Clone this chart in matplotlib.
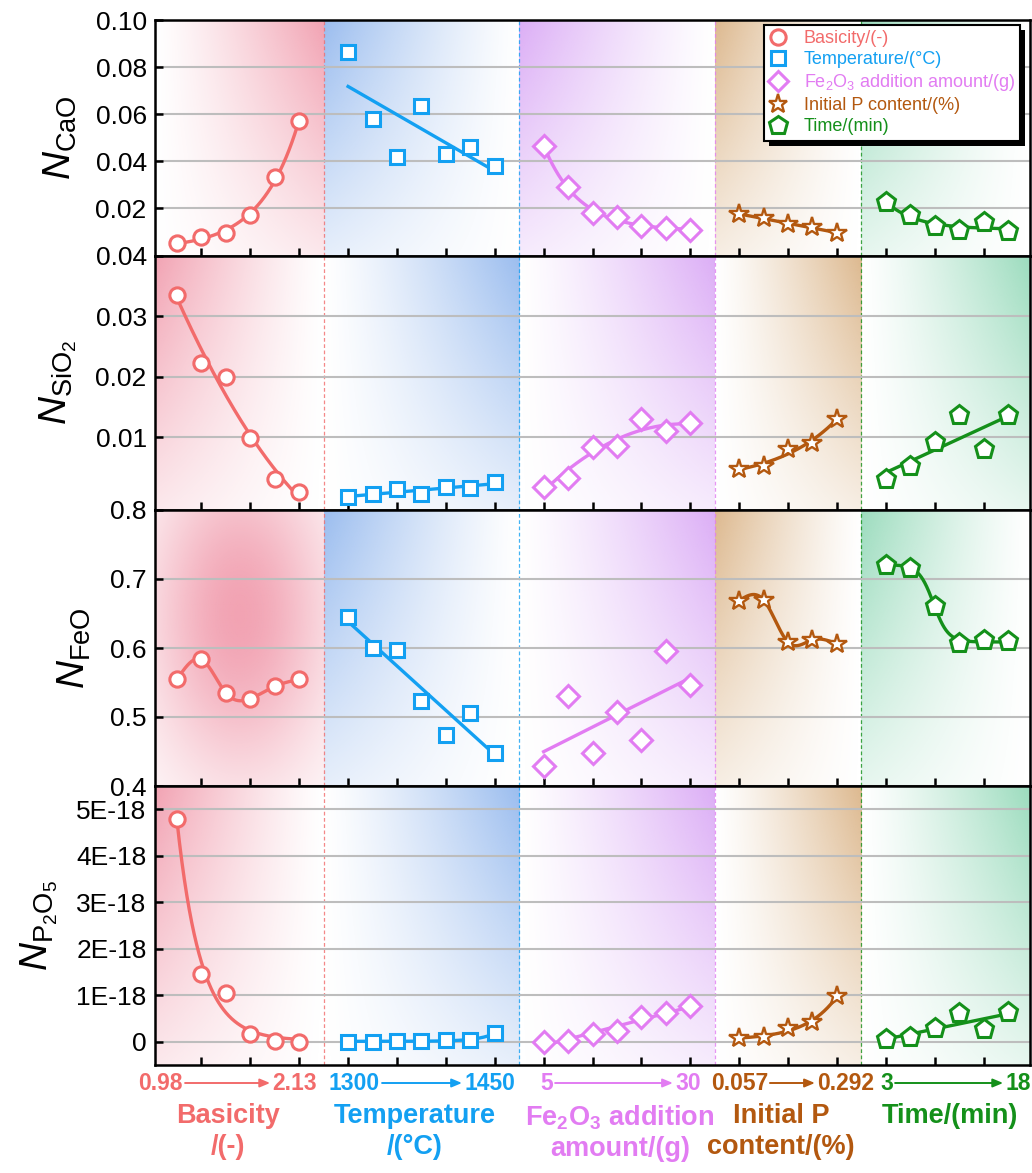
import numpy as np
import matplotlib.pyplot as plt
import matplotlib.patheffects as pe
from matplotlib.colors import to_rgb
from matplotlib.lines import Line2D
from matplotlib.transforms import blended_transform_factory

plt.rcParams['font.family'] = ['Liberation Sans', 'DejaVu Sans']
plt.rcParams['mathtext.fontset'] = 'custom'
plt.rcParams['mathtext.rm'] = 'Liberation Sans'
plt.rcParams['mathtext.it'] = 'Liberation Sans:italic'
plt.rcParams['mathtext.bf'] = 'Liberation Sans:bold'

# factors (number of levels in each experiment series)
n_levels = [6, 7, 7, 5, 6]
range_start = ['0.98', '1300', '5', '0.057', '3']
range_end = ['2.13', '1450', '30', '0.292', '18']
group_titles = ['Basicity\n/(-)', 'Temperature\n/(°C)', r'Fe$_\mathbf{2}$O$_\mathbf{3}$ addition' + '\namount/(g)',
                'Initial P\ncontent/(%)', 'Time/(min)']
legend_labels = ['Basicity/(-)', 'Temperature/(°C)', r'Fe$_2$O$_3$ addition amount/(g)',
                 'Initial P content/(%)', 'Time/(min)']
colors = ['#F26B6B', '#13A0F2', '#E27CF2', '#B3580F', '#14901A']
bg_colors = ['#F2A3B3', '#9BBDEF', '#DCAEF6', '#DDB98F', '#9CDCBE']
markers = ['o', 's', 'D', '*', 'p']

# N_CaO
cao_basicity = [0.0054, 0.0078, 0.0096, 0.0171, 0.0332, 0.0572]
cao_temp = [0.0863, 0.0580, 0.0420, 0.0633, 0.0431, 0.0459, 0.0381]
cao_fe2o3 = [0.0467, 0.0290, 0.0180, 0.0165, 0.0127, 0.0116, 0.0109]
cao_p = [0.0176, 0.0158, 0.0133, 0.0123, 0.0094]
cao_time = [0.0226, 0.0172, 0.0127, 0.0109, 0.0141, 0.0104]

# N_SiO2
sio2_basicity = [0.0334, 0.0223, 0.0200, 0.0098, 0.0031, 0.0009]
sio2_temp = [0.0002, 0.0006, 0.0014, 0.0007, 0.0018, 0.0017, 0.0026]
sio2_fe2o3 = [0.0018, 0.0033, 0.0084, 0.0085, 0.0131, 0.0110, 0.0123]
sio2_p = [0.0048, 0.0052, 0.0080, 0.0091, 0.0131]
sio2_time = [0.0031, 0.0053, 0.0093, 0.0136, 0.0081, 0.0136]

# N_FeO
feo_basicity = [0.5545, 0.5834, 0.5348, 0.5266, 0.5444, 0.5545]
feo_temp = [0.6447, 0.6003, 0.5964, 0.5227, 0.4746, 0.5060, 0.4481]
feo_fe2o3 = [0.4293, 0.5299, 0.4481, 0.5074, 0.4663, 0.5955, 0.5458]
feo_p = [0.6687, 0.6697, 0.6085, 0.6118, 0.6061]
feo_time = [0.7207, 0.7155, 0.6614, 0.6071, 0.6118, 0.6099]

# N_P2O5
p2o5_basicity = [4.79e-18, 1.46e-18, 1.05e-18, 0.16e-18, 0.02e-18, 0.0]
p2o5_temp = [0.0, 0.0, 0.01e-18, 0.02e-18, 0.04e-18, 0.04e-18, 0.18e-18]
p2o5_fe2o3 = [0.0, 0.015e-18, 0.166e-18, 0.237e-18, 0.525e-18, 0.624e-18, 0.775e-18]
p2o5_p = [0.073e-18, 0.108e-18, 0.288e-18, 0.430e-18, 0.983e-18]
p2o5_time = [0.052e-18, 0.095e-18, 0.288e-18, 0.624e-18, 0.267e-18, 0.645e-18]

rows = [
    [cao_basicity, cao_temp, cao_fe2o3, cao_p, cao_time],
    [sio2_basicity, sio2_temp, sio2_fe2o3, sio2_p, sio2_time],
    [feo_basicity, feo_temp, feo_fe2o3, feo_p, feo_time],
    [p2o5_basicity, p2o5_temp, p2o5_fe2o3, p2o5_p, p2o5_time],
]
fit_kinds = [
    ['exp', 'lin', 'exp', 'lin', 'exp'],
    ['poly2', 'lin', 'poly2', 'exp', 'lin'],
    ['spline', 'lin', 'lin', 'spline', 'boltz'],
    ['exp', 'exp', 'lin', 'exp', 'lin'],
]
# where the coloured background is strongest in every cell
bg_spots = [
    ['tr', 'tl', 'tl', 'tl', 'tl'],
    ['tl', 'tr', 'tr', 'tr', 'tr'],
    ['c', 'tl', 'tr', 'tl', 'tl'],
    ['tl', 'tr', 'tr', 'tr', 'tr'],
]
ylabels = [r'$\mathit{N}_{\mathrm{CaO}}$', r'$\mathit{N}_{\mathrm{SiO}_2}$',
           r'$\mathit{N}_{\mathrm{FeO}}$', r'$\mathit{N}_{\mathrm{P}_2\mathrm{O}_5}$']
ylims = [(0, 0.1), (-0.002, 0.04), (0.4, 0.8), (-0.5e-18, 5.5e-18)]
yticks = [[0.02, 0.04, 0.06, 0.08, 0.10], [0.01, 0.02, 0.03, 0.04],
          [0.4, 0.5, 0.6, 0.7, 0.8], [0, 1e-18, 2e-18, 3e-18, 4e-18, 5e-18]]

msize = {'o': 11, 's': 10, 'D': 11, '*': 14.5, 'p': 14}


def natural_spline(x, y, xs):
    n = len(x)
    h = np.diff(x)
    A = np.zeros((n, n))
    b = np.zeros(n)
    A[0, 0] = A[-1, -1] = 1
    for i in range(1, n - 1):
        A[i, i - 1] = h[i - 1]
        A[i, i] = 2 * (h[i - 1] + h[i])
        A[i, i + 1] = h[i]
        b[i] = 6 * ((y[i + 1] - y[i]) / h[i] - (y[i] - y[i - 1]) / h[i - 1])
    M = np.linalg.solve(A, b)
    idx = np.clip(np.searchsorted(x, xs) - 1, 0, n - 2)
    x0, x1 = x[idx], x[idx + 1]
    hh = x1 - x0
    a = (x1 - xs) / hh
    bb = (xs - x0) / hh
    return a * y[idx] + bb * y[idx + 1] + ((a ** 3 - a) * M[idx] + (bb ** 3 - bb) * M[idx + 1]) * hh ** 2 / 6


def fit_curve(x, y, kind):
    x = np.asarray(x, float)
    y = np.asarray(y, float)
    scale = np.abs(y).max()
    y = y / scale
    xs = np.linspace(x[0], x[-1], 300)
    t, ts = x - x[0], xs - x[0]
    if kind == 'lin':
        ys = np.polyval(np.polyfit(x, y, 1), xs)
    elif kind == 'poly2':
        ys = np.polyval(np.polyfit(x, y, 2), xs)
    elif kind == 'spline':
        ys = natural_spline(x, y, xs)
    elif kind == 'exp':
        best = None
        for c in np.linspace(-4, 4, 801):
            if abs(c) < 1e-3:
                continue
            A = np.column_stack([np.ones_like(t), np.exp(c * t)])
            coef = np.linalg.lstsq(A, y, rcond=None)[0]
            err = np.sum((A @ coef - y) ** 2)
            if best is None or err < best[0]:
                best = (err, c, coef)
        _, c, coef = best
        ys = coef[0] + coef[1] * np.exp(c * ts)
    else:  # boltzmann
        best = None
        for x0 in np.linspace(0, t[-1], 101):
            for w in np.linspace(0.3, 2, 35):
                s = 1 / (1 + np.exp((t - x0) / w))
                A = np.column_stack([s, 1 - s])
                coef = np.linalg.lstsq(A, y, rcond=None)[0]
                err = np.sum((A @ coef - y) ** 2)
                if best is None or err < best[0]:
                    best = (err, x0, w, coef)
        _, x0, w, coef = best
        s = 1 / (1 + np.exp((ts - x0) / w))
        ys = coef[0] * s + coef[1] * (1 - s)
    return xs, ys * scale


# x positions: each series on its own stretch, one empty slot between series
xpos, bounds = [], []
start = 1
for n in n_levels:
    xs = np.arange(start, start + n)
    xpos.append(xs)
    bounds.append(xs[-1] + 1)
    start = xs[-1] + 2
xmin, xmax = 0.1, 35.9
cell_edges = [xmin] + bounds[:-1] + [xmax]

W, H = 1032, 1173
fig = plt.figure(figsize=(W / 100, H / 100), dpi=100)
tops = [20, 255.5, 510, 786]
bots = [255.5, 510, 786, 1065]
axes = []
for r in range(4):
    ax = fig.add_axes([155 / W, 1 - bots[r] / H, 875 / W, (bots[r] - tops[r]) / H])
    axes.append(ax)
    y0, y1 = ylims[r]
    # gradient backgrounds
    gy, gx = np.mgrid[0:1:120j, 0:1:120j]
    for g in range(5):
        spot = bg_spots[r][g]
        if spot == 'c':
            alpha = np.exp(-(((gx - 0.5) / 0.55) ** 2 + ((gy - 0.62) / 0.6) ** 2))
        else:
            du = gx if spot == 'tl' else 1 - gx
            dv = 1 - gy
            alpha = np.clip(1 - du, 0, 1) ** 1.2 * (1 - 0.75 * dv)
        img = np.zeros((120, 120, 4))
        img[..., :3] = to_rgb(bg_colors[g])
        img[..., 3] = np.clip(alpha, 0, 1)
        ax.imshow(img, extent=[cell_edges[g], cell_edges[g + 1], y0, y1], origin='lower',
                  aspect='auto', interpolation='bilinear', zorder=0)
    for g, b in enumerate(bounds[:-1]):
        ax.axvline(b, color=[colors[0], colors[1], colors[2], colors[4]][g], lw=0.9,
                   ls=(0, (3, 2)), alpha=0.8, zorder=1)
    for g in range(5):
        ydata = rows[r][g]
        fx, fy = fit_curve(xpos[g], ydata, fit_kinds[r][g])
        ax.plot(fx, fy, color=colors[g], lw=2.4, zorder=3)
        mew = 1.7 if markers[g] == '*' else 2.2
        ax.plot(xpos[g], ydata, ls='none', marker=markers[g], ms=msize[markers[g]], mfc='white',
                mec=colors[g], mew=mew, zorder=4)
    ax.set_xlim(xmin, xmax)
    ax.set_ylim(y0, y1)
    ax.set_yticks(yticks[r])
    if r == 3:
        ax.set_yticklabels(['0' if v == 0 else f'{v / 1e-18:.0f}E-18' for v in yticks[r]])
    elif r == 2:
        ax.set_yticklabels([f'{v:.1f}' for v in yticks[r]])
    else:
        ax.set_yticklabels([f'{v:.2f}' for v in yticks[r]])
    ax.set_xticks(np.arange(2, 35, 2))
    ax.set_xticklabels([])
    ax.tick_params(axis='both', direction='in', length=6, width=1.8, labelsize=19, pad=6)
    ax.tick_params(axis='x', bottom=True, top=False)
    ax.grid(axis='y', color='#BDBDBD', lw=1.5)
    for sp in ax.spines.values():
        sp.set_linewidth(1.8)
    ax.set_ylabel(ylabels[r], fontsize=28, labelpad=12)

fig.align_ylabels(axes[:3])

# legend
handles = [Line2D([], [], ls='none', marker=markers[g], mfc='white', mec=colors[g],
                  ms={'o': 11, 's': 9.5, 'D': 10.5, '*': 14, 'p': 13.5}[markers[g]],
                  mew=1.7 if markers[g] == '*' else 2.2) for g in range(5)]
leg = axes[0].legend(handles, legend_labels, loc='upper right', bbox_to_anchor=(0.989, 0.979),
                     fontsize=13, frameon=True, fancybox=False, framealpha=1, handlelength=1.0,
                     handletextpad=0.9, labelspacing=0.22, borderpad=0.3, borderaxespad=0)
frame = leg.get_frame()
frame.set_edgecolor('black')
frame.set_facecolor('white')
frame.set_linewidth(1.5)
frame.set_path_effects([pe.SimplePatchShadow(offset=(3.5, -3.5), shadow_rgbFace='black', alpha=1),
                        pe.Normal()])
leg.set_zorder(10)
for txt, c in zip(leg.get_texts(), colors):
    txt.set_color(c)

# bottom range labels, arrows and factor names
ax = axes[3]
trans = blended_transform_factory(ax.transData, fig.transFigure)
arrow_spans = [(1.33, 4.81), (9.39, 12.66), (16.47, 21.29), (25.26, 27.10), (30.38, 34.80)]
title_x = [3.09, 10.74, 19.13, 25.71, 32.63]
yv = 1 - 1083 / H
for g in range(5):
    a, b = arrow_spans[g]
    ax.annotate('', xy=(b, yv), xytext=(a, yv), xycoords=trans, textcoords=trans,
                arrowprops=dict(arrowstyle='-|>,head_length=0.6,head_width=0.25', color=colors[g],
                                lw=1.4, shrinkA=0, shrinkB=0), annotation_clip=False)
    ax.text(a - 0.08, yv, range_start[g], transform=trans, ha='right', va='center',
            color=colors[g], fontsize=16.5, fontweight='bold')
    ax.text(b + 0.1, yv, range_end[g], transform=trans, ha='left', va='center',
            color=colors[g], fontsize=16.5, fontweight='bold')
    ax.text(title_x[g], 1 - 1103 / H, group_titles[g], transform=trans, ha='center', va='top',
            color=colors[g], fontsize=19.5, fontweight='bold', linespacing=1.25)

fig.savefig('out.png', dpi=100)
